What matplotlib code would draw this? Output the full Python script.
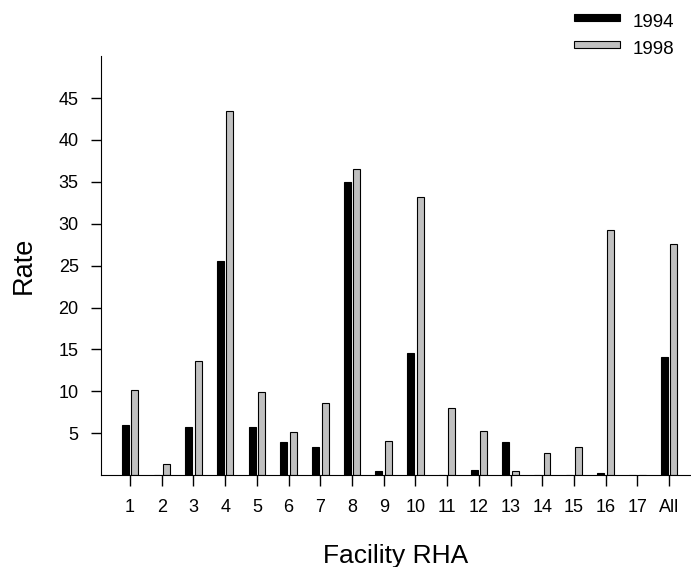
import matplotlib.pyplot as plt
from matplotlib.patches import Rectangle
import numpy as np

plt.rcParams['font.family'] = ['Liberation Sans', 'DejaVu Sans']

# Datos
grupos = ['1', '2', '3', '4', '5', '6', '7', '8', '9', '10', '11', '12',
          '13', '14', '15', '16', '17', 'All']
rate_1994 = [6.0, 0, 5.7, 25.6, 5.8, 4.0, 3.4, 35.0, 0.5, 14.6, 0, 0.6,
             3.9, 0, 0, 0.3, 0, 14.1]
rate_1998 = [10.2, 1.3, 13.6, 43.4, 9.9, 5.2, 8.6, 36.5, 4.1, 33.2, 8.0, 5.3,
             0.5, 2.7, 3.4, 29.3, 0, 27.6]
series = ['1994', '1998']
colores = ['black', '#c0c0c0']

W, H = 691, 567
x = np.arange(len(grupos))
ancho = 0.22

fig = plt.figure(figsize=(W / 100, H / 100), dpi=100)
ax = fig.add_axes([0.146, 0.162, 0.853, 0.739])

ax.bar(x - 0.15, rate_1994, ancho, color=colores[0], edgecolor='black',
       linewidth=0.8)
ax.bar(x + 0.15, rate_1998, ancho, color=colores[1], edgecolor='black',
       linewidth=0.8)

ax.set_xlim(-0.92, 17.67)
ax.set_ylim(0, 50)
ax.set_xticks(x)
ax.set_xticklabels(grupos)
ax.set_yticks(np.arange(5, 50, 5))
ax.tick_params(axis='y', labelsize=13, length=7, width=1, pad=9)
ax.tick_params(axis='x', labelsize=13, length=8, width=1, pad=9)

ax.spines['top'].set_visible(False)
ax.spines['right'].set_visible(False)

ax.set_xlabel('Facility RHA', fontsize=19, labelpad=20)
ax.set_ylabel('Rate', fontsize=19.5, labelpad=16)

# Leyenda dibujada a mano (cuadro arriba alineado con el texto)
for i, (nombre, col) in enumerate(zip(series, colores)):
    top = 13.5 + i * 27.3
    fig.patches.append(Rectangle((574 / W, 1 - (top + 7.3) / H), 46 / W, 7.3 / H,
                                 transform=fig.transFigure, facecolor=col,
                                 edgecolor='black', linewidth=0.8))
    fig.text(633 / W, 1 - (top + 13.3) / H, nombre, fontsize=13.5,
             va='baseline', ha='left')

plt.savefig('out.png', dpi=100)
